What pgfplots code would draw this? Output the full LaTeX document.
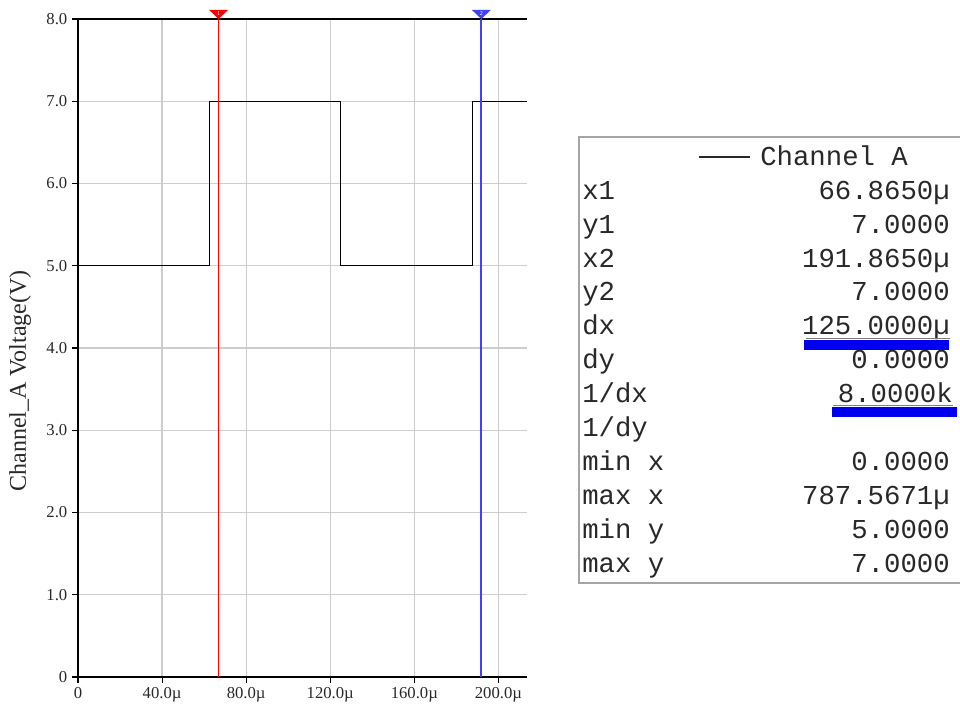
\documentclass[border=0pt]{standalone}
\usepackage{fontspec}
\setmainfont{Liberation Serif}
\newfontfamily\mono{Liberation Mono}
\usepackage{pgfplots}
\pgfplotsset{compat=1.18}
\definecolor{gridgray}{RGB}{205,205,205}
\definecolor{curblue}{RGB}{64,64,255}
\definecolor{barblue}{RGB}{0,0,238}
\definecolor{boxgray}{RGB}{165,165,165}
\definecolor{txt}{RGB}{40,40,40}

\pgfdeclareplotmark{cursor1}{%
  \pgfpathmoveto{\pgfqpoint{-7.1pt}{6.8pt}}%
  \pgfpathlineto{\pgfqpoint{7.1pt}{6.8pt}}%
  \pgfpathlineto{\pgfqpoint{0pt}{0pt}}%
  \pgfpathclose
  \pgfusepathqfill
  \pgftext[at=\pgfqpoint{0pt}{4.3pt}]{\color{white}\fontsize{4.5}{4.5}\selectfont 1}%
}
\pgfdeclareplotmark{cursor2}{%
  \pgfpathmoveto{\pgfqpoint{-7.1pt}{6.8pt}}%
  \pgfpathlineto{\pgfqpoint{7.1pt}{6.8pt}}%
  \pgfpathlineto{\pgfqpoint{0pt}{0pt}}%
  \pgfpathclose
  \pgfusepathqfill
  \pgftext[at=\pgfqpoint{0pt}{4.3pt}]{\color{white}\fontsize{4.5}{4.5}\selectfont 2}%
}

\begin{document}
\begin{tikzpicture}
\path[use as bounding box] (0,0) rectangle (720pt,534.75pt);
\begin{axis}[
  at={(58.5pt,27pt)}, anchor=south west,
  width=336.75pt, height=493.5pt, scale only axis,
  xmin=0, xmax=213.6, ymin=0, ymax=8,
  axis x line*=bottom, axis y line*=left,
  axis line style={black, line width=1pt, -},
  xtick={0,40,80,120,160,200},
  xticklabels={0,40.0µ,80.0µ,120.0µ,160.0µ,200.0µ},
  ytick={0,1,2,3,4,5,6,7,8},
  yticklabels={0,1.0,2.0,3.0,4.0,5.0,6.0,7.0,8.0},
  tick align=outside, major tick length=4.5pt,
  tick style={black, line width=0.8pt},
  grid=major, grid style={gridgray, line width=0.9pt},
  ticklabel style={font=\fontsize{12.5}{14}\selectfont, text=txt},
  ylabel={Channel\_A Voltage(V)},
  ylabel style={font=\fontsize{18}{20}\selectfont, text=txt, at={(axis description cs:-0.129,0.45)}, anchor=center},
  clip=false,
]
\addplot[black, line width=0.9pt, const plot] coordinates {(0,5) (62.5,7) (125,5) (187.5,7) (213.6,7)};
\addplot[black, line width=1pt] coordinates {(0,8) (213.6,8)};
\addplot[draw=red, line width=1.2pt] coordinates {(66.865,0) (66.865,8)};
\addplot[draw=curblue, line width=1.4pt] coordinates {(191.865,0) (191.865,8)};
\addplot[only marks, mark=cursor1, mark options={fill=red, draw=red}] coordinates {(66.865,8)};
\addplot[only marks, mark=cursor2, mark options={fill=curblue, draw=curblue}] coordinates {(191.865,8)};
\end{axis}

\begin{scope}[x=0.75pt, y=-0.75pt, shift={(0pt,534.75pt)},
  lab/.style={anchor=base west, inner sep=0pt, font=\mono\fontsize{20.5}{24}\selectfont, text=txt},
  val/.style={anchor=base east, inner sep=0pt, font=\mono\fontsize{20.5}{24}\selectfont, text=txt}]
\fill[white] (578,137) rectangle (960,583);
\draw[boxgray, line width=1.5pt] (960,137) -- (579,137) -- (579,583) -- (960,583);
% header
\draw[txt, line width=1.4pt] (699,157) -- (750,157);
\node[lab] at (760,166) {Channel A};
% rows
\node[lab] at (582,200) {x1};    \node[val] at (950,200) {66.8650µ};
\node[lab] at (582,234) {y1};    \node[val] at (950,234) {7.0000};
\node[lab] at (582,268) {x2};    \node[val] at (950,268) {191.8650µ};
\node[lab] at (582,301) {y2};    \node[val] at (950,301) {7.0000};
\node[lab] at (582,335) {dx};    \node[val] at (950,335) {125.0000µ};
\node[lab] at (582,369) {dy};    \node[val] at (950,369) {0.0000};
\node[lab] at (582,403) {1/dx};  \node[val] at (953,403) {8.0000k};
\node[lab] at (582,437) {1/dy};
\node[lab] at (582,471) {min x}; \node[val] at (950,471) {0.0000};
\node[lab] at (582,505) {max x}; \node[val] at (950,505) {787.5671µ};
\node[lab] at (582,539) {min y}; \node[val] at (950,539) {5.0000};
\node[lab] at (582,573) {max y}; \node[val] at (950,573) {7.0000};
% underlines and blue bars
\draw[gray, line width=0.8pt] (806,338.5) -- (950,338.5);
\draw[gray, line width=0.8pt] (833,405.5) -- (953,405.5);
\fill[barblue] (804,340) rectangle (949,350);
\fill[barblue] (832,407) rectangle (957,417);
\end{scope}
\end{tikzpicture}
\end{document}
